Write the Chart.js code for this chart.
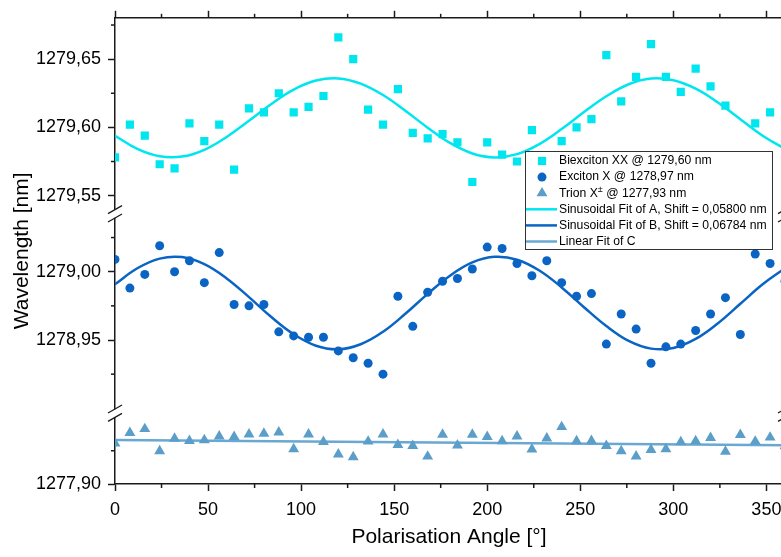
<!DOCTYPE html>
<html>
<head>
<meta charset="utf-8">
<script src="https://cdn.jsdelivr.net/npm/chart.js@4"></script>
<style>
html, body { margin: 0; padding: 0; overflow: hidden; background: #fff; }
</style>
</head>
<body>
<canvas id="chart" width="800" height="557"></canvas>
<script>
// measured angles (deg)
const angles = [0, 8, 16, 24, 32, 40, 48, 56, 64, 72, 80, 88, 96, 104, 112, 120, 128, 136, 144, 152, 160, 168, 176,
  184, 192, 200, 208, 216, 224, 232, 240, 248, 256, 264, 272, 280, 288, 296, 304, 312, 320, 328, 336, 344, 352, 360];

const biexciton = [1279.578, 1279.602, 1279.594, 1279.573, 1279.570, 1279.603, 1279.590, 1279.602, 1279.569, 1279.614,
  1279.611, 1279.625, 1279.611, 1279.615, 1279.623, 1279.666, 1279.650, 1279.613, 1279.602, 1279.628, 1279.596,
  1279.592, 1279.595, 1279.589, 1279.560, 1279.589, 1279.580, 1279.575, 1279.598, 1279.576, 1279.590, 1279.600,
  1279.606, 1279.653, 1279.619, 1279.637, 1279.661, 1279.637, 1279.626, 1279.643, 1279.630, 1279.616, 1279.579,
  1279.603, 1279.611, 1279.588];

const exciton = [1279.009, 1278.988, 1278.998, 1279.019, 1279.000, 1279.008, 1278.992, 1279.014, 1278.976, 1278.975,
  1278.976, 1278.956, 1278.953, 1278.952, 1278.952, 1278.942, 1278.937, 1278.933, 1278.925, 1278.982, 1278.960,
  1278.985, 1278.993, 1278.995, 1279.002, 1279.018, 1279.017, 1279.006, 1278.997, 1279.008, 1278.992, 1278.982,
  1278.984, 1278.947, 1278.969, 1278.958, 1278.933, 1278.945, 1278.947, 1278.957, 1278.969, 1278.981, 1278.954,
  1279.013, 1279.006, 1278.993];

const trion = [1277.9305, 1277.9384, 1277.9414, 1277.9248, 1277.9342, 1277.9324, 1277.9330, 1277.9359, 1277.9354,
  1277.9374, 1277.9379, 1277.9389, 1277.9263, 1277.9374, 1277.9317, 1277.9223, 1277.9203, 1277.9320, 1277.9374,
  1277.9295, 1277.9287, 1277.9207, 1277.9372, 1277.9290, 1277.9372, 1277.9354, 1277.9322, 1277.9359, 1277.9260,
  1277.9344, 1277.9429, 1277.9322, 1277.9324, 1277.9287, 1277.9248, 1277.9208, 1277.9257, 1277.9263, 1277.9315,
  1277.9322, 1277.9347, 1277.9243, 1277.9369, 1277.9320, 1277.9350, 1277.9285];

// fit curves, every 12 deg
const fitAngles = [0, 12, 24, 36, 48, 60, 72, 84, 96, 108, 120, 132, 144, 156, 168, 180, 192, 204, 216, 228, 240,
  252, 264, 276, 288, 300, 312, 324, 336, 348, 360];

const fitA = [1279.5939, 1279.5842, 1279.5788, 1279.5786, 1279.5836, 1279.5930, 1279.6049, 1279.6172, 1279.6277,
  1279.6343, 1279.6359, 1279.6321, 1279.6237, 1279.6122, 1279.5998, 1279.5886, 1279.5809, 1279.5780, 1279.5804,
  1279.5878, 1279.5988, 1279.6112, 1279.6228, 1279.6316, 1279.6358, 1279.6346, 1279.6284, 1279.6182, 1279.6060,
  1279.5939, 1279.5842];

const fitB = [1278.9908, 1279.0025, 1279.0096, 1279.0107, 1279.0055, 1278.9951, 1278.9814, 1278.9668, 1278.9542,
  1278.9458, 1278.9432, 1278.9469, 1278.9560, 1278.9692, 1278.9838, 1278.9971, 1279.0068, 1279.0109, 1279.0088,
  1279.0009, 1278.9885, 1278.9740, 1278.9602, 1278.9493, 1278.9437, 1278.9442, 1278.9508, 1278.9623, 1278.9765,
  1278.9908, 1279.0025];

const fitCAngles = [0, 360];
const fitC = [1277.9330, 1277.9292];

const labels = ["Biexciton XX @ 1279,60 nm", "Exciton X @ 1278,97 nm", "Trion X\u00B1 @ 1277,93 nm",
  "Sinusoidal Fit of A, Shift = 0,05800 nm", "Sinusoidal Fit of B, Shift = 0,06784 nm", "Linear Fit of C"];

const AXIS = "#1a1a1a";
const FONT = "'Liberation Sans', Arial, sans-serif";
Chart.defaults.font.family = FONT;

const pts = (xs, ys) => xs.map((x, i) => ({ x: x, y: ys[i] }));
const isMajor = v => Math.abs(v / 0.05 - Math.round(v / 0.05)) < 1e-4;
const fmt = v => v.toFixed(2).replace(".", ",");

function yScale(min, max, weight, stackWeight, keep) {
  return {
    type: "linear", position: "left", stack: "wl", weight: weight, stackWeight: stackWeight,
    min: min, max: max,
    border: { color: AXIS, width: 1.5 },
    grid: {
      drawOnChartArea: false, tickLength: 7, tickWidth: 1.5,
      tickColor: c => (c.tick && isMajor(c.tick.value)) ? AXIS : "rgba(0,0,0,0)"
    },
    ticks: {
      stepSize: 0.025, includeBounds: false, autoSkip: false, padding: 7, color: "#000",
      font: { size: 18 },
      callback: v => isMajor(v) ? fmt(v) : ""
    },
    afterBuildTicks: s => { s.ticks = s.ticks.filter(t => keep(t.value, s)); },
    afterFit: s => { s.width = 115; }
  };
}

function xScale(pos) {
  return {
    type: "linear", position: pos, min: 0, max: 360,
    border: { color: AXIS, width: 1.5 },
    grid: {
      drawOnChartArea: false, tickLength: 7, tickWidth: 1.5,
      tickColor: c => (c.tick && c.tick.value % 50 === 0) ? AXIS : "rgba(0,0,0,0)"
    },
    ticks: {
      display: pos === "bottom", stepSize: 25, includeBounds: false, autoSkip: false, maxRotation: 0,
      padding: 8, color: "#000", font: { size: 18 },
      callback: v => v % 50 === 0 ? String(v) : ""
    },
    afterFit: s => { s.height = pos === "bottom" ? 73 : 13; }
  };
}

// short minor ticks
const minorTicks = {
  id: "minorTicks",
  afterDraw(chart) {
    const ctx = chart.ctx;
    ctx.save();
    ctx.strokeStyle = AXIS;
    ctx.lineWidth = 1.5;
    for (const id of ["x", "x2", "yTop", "yMid", "yBot"]) {
      const s = chart.scales[id];
      for (const t of s.ticks) {
        const major = s.isHorizontal() ? t.value % 50 === 0 : isMajor(t.value);
        if (major) continue;
        const p = s.getPixelForValue(t.value);
        ctx.beginPath();
        if (id === "x") { ctx.moveTo(p, s.top); ctx.lineTo(p, s.top + 4); }
        else if (id === "x2") { ctx.moveTo(p, s.bottom); ctx.lineTo(p, s.bottom - 4); }
        else { ctx.moveTo(s.right, p); ctx.lineTo(s.right - 4, p); }
        ctx.stroke();
      }
    }
    ctx.restore();
  }
};

// axis break symbols
const axisBreaks = {
  id: "axisBreaks",
  afterDraw(chart) {
    const ctx = chart.ctx;
    const a = chart.chartArea;
    const cuts = [chart.scales.yTop.bottom, chart.scales.yMid.bottom];
    ctx.save();
    for (const c of cuts) {
      for (const x of [a.left, a.right]) {
        ctx.fillStyle = "#fff";
        ctx.fillRect(x - 3, c - 4, 6, 8);
        ctx.strokeStyle = AXIS;
        ctx.lineWidth = 1.3;
        for (const d of [-4.2, 4.2]) {
          ctx.beginPath();
          ctx.moveTo(x - 7, c + 4 + d);
          ctx.lineTo(x + 7, c - 4 + d);
          ctx.stroke();
        }
      }
    }
    ctx.restore();
  }
};

// legend box inside the plot
const boxLegend = {
  id: "boxLegend",
  afterDraw(chart) {
    const ctx = chart.ctx;
    const L = 525, T = 151, W = 247, H = 98, row = 16.1;
    ctx.save();
    ctx.fillStyle = "#fff";
    ctx.fillRect(L, T, W, H);
    ctx.strokeStyle = "#333";
    ctx.lineWidth = 1;
    ctx.strokeRect(L + 0.5, T + 0.5, W, H);
    ctx.textBaseline = "middle";
    chart.data.datasets.forEach((ds, i) => {
      const y = T + 10 + i * row;
      if (ds.showLine) {
        ctx.strokeStyle = ds.borderColor;
        ctx.lineWidth = 2.5;
        ctx.beginPath();
        ctx.moveTo(L + 1, y);
        ctx.lineTo(L + 32, y);
        ctx.stroke();
      } else {
        ctx.fillStyle = ds.backgroundColor;
        Chart.helpers.drawPoint(ctx, { pointStyle: ds.pointStyle, radius: ds.pointRadius, borderWidth: 0, rotation: 0 }, L + 17, y);
      }
      ctx.fillStyle = "#000";
      const parts = ds.label.split("\u00B1");
      let tx = L + 34;
      ctx.font = "12.2px " + FONT;
      ctx.fillText(parts[0], tx, y);
      if (parts.length > 1) {
        tx += ctx.measureText(parts[0]).width;
        ctx.font = "9px " + FONT;
        ctx.fillText("\u00B1", tx, y - 4);
        tx += ctx.measureText("\u00B1").width;
        ctx.font = "12.2px " + FONT;
        ctx.fillText(parts[1], tx, y);
      }
    });
    ctx.restore();
  }
};

const axisTitles = {
  id: "axisTitles",
  afterDraw(chart) {
    const ctx = chart.ctx;
    const a = chart.chartArea;
    ctx.save();
    ctx.fillStyle = "#000";
    ctx.font = "21px " + FONT;
    ctx.textAlign = "center";
    ctx.textBaseline = "middle";
    ctx.fillText("Polarisation Angle [\u00B0]", 449, 537);
    ctx.translate(22, (a.top + a.bottom) / 2);
    ctx.rotate(-Math.PI / 2);
    ctx.fillText("Wavelength [nm]", 0, 0);
    ctx.restore();
  }
};

const CYAN = "#00e6ef", BLUE = "#0a64c4", STEEL = "#5b9ec9", STEEL_L = "#68a8d2";

new Chart(document.getElementById("chart"), {
  type: "scatter",
  data: {
    datasets: [
      { label: labels[0], data: pts(angles, biexciton), yAxisID: "yTop", pointStyle: "rect", pointRadius: 5.8,
        backgroundColor: CYAN, borderColor: CYAN, pointBorderWidth: 0, clip: 0 },
      { label: labels[1], data: pts(angles, exciton), yAxisID: "yMid", pointStyle: "circle", pointRadius: 4.5,
        backgroundColor: BLUE, borderColor: BLUE, pointBorderWidth: 0, clip: 0 },
      { label: labels[2], data: pts(angles, trion), yAxisID: "yBot", pointStyle: "triangle", pointRadius: 6.3,
        backgroundColor: STEEL, borderColor: STEEL, pointBorderWidth: 0, clip: 0 },
      { label: labels[3], data: pts(fitAngles, fitA), yAxisID: "yTop", showLine: true, pointRadius: 0,
        borderColor: CYAN, borderWidth: 2.5, tension: 0.4, clip: 0 },
      { label: labels[4], data: pts(fitAngles, fitB), yAxisID: "yMid", showLine: true, pointRadius: 0,
        borderColor: BLUE, borderWidth: 2.5, tension: 0.4, clip: 0 },
      { label: labels[5], data: pts(fitCAngles, fitC), yAxisID: "yBot", showLine: true, pointRadius: 0,
        borderColor: STEEL_L, borderWidth: 2.5, clip: 0 }
    ]
  },
  options: {
    responsive: false,
    animation: false,
    events: [],
    layout: { padding: { left: 0, right: 15, top: 0, bottom: 0 } },
    plugins: { legend: { display: false }, tooltip: { enabled: false } },
    scales: {
      x: xScale("bottom"),
      x2: xScale("top"),
      yTop: yScale(1279.5367, 1279.6803, 3, 198, (v, s) => v - s.min > 0.005),
      yMid: yScale(1278.8964, 1279.0424, 2, 201.5, (v, s) => v - s.min > 0.005),
      yBot: yScale(1277.9000, 1277.9532, 1, 71.5, (v, s) => s.max - v > 0.005)
    }
  },
  plugins: [minorTicks, axisBreaks, boxLegend, axisTitles]
});
</script>
</body>
</html>
